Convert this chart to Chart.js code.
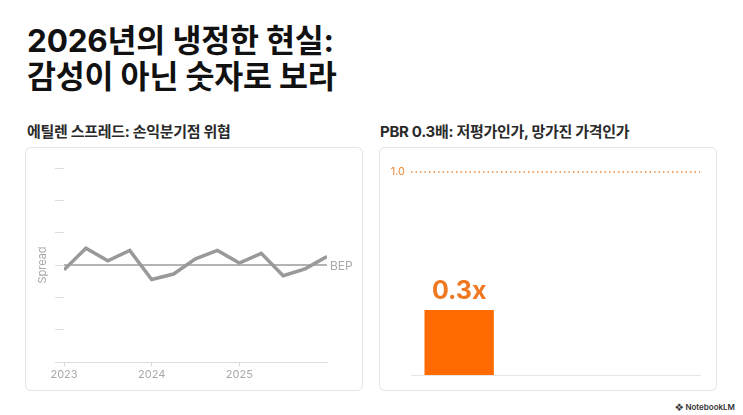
<!DOCTYPE html>
<html lang="ko">
<head>
<meta charset="utf-8">
<script src="https://cdn.jsdelivr.net/npm/chart.js@4.4.1/dist/chart.umd.min.js"></script>
<style>
  html, body { margin: 0; padding: 0; background: #fff; }
  body { width: 743px; height: 415px; position: relative; overflow: hidden;
         font-family: Inter, 'Noto Sans CJK KR', sans-serif; color: #111; }
  .title { position: absolute; left: 27px; top: 23px; font-size: 31.5px; font-weight: 700;
           line-height: 36px; letter-spacing: -0.2px; }
  .sub { position: absolute; top: 120px; font-size: 15px; font-weight: 700; color: #2a2a2a; letter-spacing: -0.3px; }
  .card { position: absolute; top: 147px; width: 336px; height: 242px;
          border: 1px solid #e4e4e4; border-radius: 6px; }
  .card canvas { display: block; }
  .brand { position: absolute; right: 8px; bottom: 3px; font-size: 8px; color: #333; font-weight: 600; }
</style>
</head>
<body>
<div class="title">2026년의 냉정한 현실:<br>감성이 아닌 숫자로 보라</div>

<div class="sub" style="left:27px;">에틸렌 스프레드: 손익분기점 위협</div>
<div class="sub" style="left:380px;">PBR 0.3배: 저평가인가, 망가진 가격인가</div>

<div class="card" style="left:25px;"><canvas id="spreadChart" width="336" height="242"></canvas></div>
<div class="card" style="left:379px;"><canvas id="pbrChart" width="336" height="242"></canvas></div>

<div class="brand">&#x2756; NotebookLM</div>

<script>
// === DATA ===
const quarters = [2023, 2023.25, 2023.5, 2023.75, 2024, 2024.25, 2024.5, 2024.75, 2025, 2025.25, 2025.5, 2025.75, 2026];
const spreadValues = [-0.15, 0.52, 0.13, 0.45, -0.45, -0.28, 0.19, 0.45, 0.06, 0.36, -0.33, -0.12, 0.26];
const yearTicks = ['2023', '2024', '2025'];
const bepValue = 0;
const bepLabel = 'BEP';

const pbrCategories = ['PBR', '', ''];
const pbrValues = [0.32, null, null];
const pbrLabels = ['0.3x', '', ''];
const pbrReference = 1.0;
const pbrReferenceLabel = '1.0';

const FONT = "Inter, 'Noto Sans CJK KR', sans-serif";
Chart.defaults.font.family = FONT;
Chart.defaults.animation = false;

// BEP label on right end of break-even line
const bepLabelPlugin = {
    id: 'bepLabel',
    afterDatasetsDraw(chart) {
        const { ctx, scales: { x, y } } = chart;
        const px = x.getPixelForValue(quarters[quarters.length - 1]);
        const py = y.getPixelForValue(bepValue);
        ctx.save();
        ctx.font = '12px ' + FONT;
        ctx.fillStyle = '#a8a8a8';
        ctx.textBaseline = 'middle';
        ctx.fillText(bepLabel, px + 3, py + 1);
        ctx.restore();
    }
};

new Chart(document.getElementById('spreadChart'), {
    type: 'line',
    data: {
        datasets: [{
            data: quarters.map((q) => ({ x: q, y: bepValue })),
            borderColor: '#9b9b9b',
            borderWidth: 1.5,
            pointRadius: 0,
            order: 2
        }, {
            data: quarters.map((q, i) => ({ x: q, y: spreadValues[i] })),
            borderColor: '#999999',
            borderWidth: 3.5,
            pointRadius: 0,
            tension: 0,
            borderJoinStyle: 'miter',
            order: 1
        }]
    },
    options: {
        responsive: false,
        layout: { padding: { top: 20, right: 35, bottom: 0, left: 0 } },
        plugins: { legend: { display: false }, tooltip: { enabled: false } },
        scales: {
            x: {
                type: 'linear', min: quarters[0], max: quarters[quarters.length - 1],
                grid: { display: true, drawOnChartArea: false, drawTicks: true, tickLength: 4, color: '#d8d8d8' },
                border: { display: true, color: '#dcdcdc' },
                ticks: {
                    stepSize: 1, color: '#a8a8a8', font: { size: 11 }, padding: 2, maxRotation: 0,
                    callback: (v) => yearTicks.includes(String(v)) ? String(v) : null
                },
                afterFit(s) { s.height = 28; }
            },
            y: {
                min: -3, max: 3,
                grid: { display: true, drawOnChartArea: false, drawTicks: true, tickLength: 9, color: '#dedede' },
                border: { display: false },
                ticks: { stepSize: 1, callback: () => '' },
                title: { display: true, text: 'Spread', color: '#a8a8a8', font: { size: 11 }, padding: { top: 10, bottom: 0 } },
                afterFit(s) { s.width = 38; }
            }
        }
    },
    plugins: [bepLabelPlugin]
});

// reference line (1.0) + value labels for the PBR chart
const pbrPlugin = {
    id: 'pbrDecor',
    afterDatasetsDraw(chart) {
        const { ctx, scales: { x, y } } = chart;
        const ry = y.getPixelForValue(pbrReference);
        ctx.save();
        ctx.strokeStyle = '#e9893a';
        ctx.lineWidth = 1.5;
        ctx.setLineDash([1.5, 3]);
        ctx.beginPath();
        ctx.moveTo(x.left, ry);
        ctx.lineTo(x.right, ry);
        ctx.stroke();
        ctx.setLineDash([]);
        ctx.font = '11px ' + FONT;
        ctx.fillStyle = '#e9893a';
        ctx.textAlign = 'right';
        ctx.textBaseline = 'middle';
        ctx.fillText(pbrReferenceLabel, x.left - 6, ry);

        const meta = chart.getDatasetMeta(0);
        ctx.font = 'bold 25px ' + FONT;
        ctx.fillStyle = '#f07820';
        ctx.textAlign = 'center';
        ctx.textBaseline = 'bottom';
        meta.data.forEach((bar, i) => {
            if (pbrValues[i] == null) return;
            ctx.fillText(pbrLabels[i], bar.x, bar.y - 6);
        });
        ctx.restore();
    }
};

new Chart(document.getElementById('pbrChart'), {
    type: 'bar',
    data: {
        labels: pbrCategories,
        datasets: [{
            data: pbrValues,
            backgroundColor: '#ff6b00',
            borderWidth: 0
        }]
    },
    options: {
        responsive: false,
        layout: { padding: { top: 24, right: 16, bottom: 15, left: 31 } },
        plugins: { legend: { display: false }, tooltip: { enabled: false } },
        scales: {
            x: {
                grid: { display: false },
                border: { display: true, color: '#e6e6e6' },
                ticks: { display: false },
                afterFit(s) { s.height = 0; }
            },
            y: {
                display: false, min: 0, max: pbrReference
            }
        }
    },
    plugins: [pbrPlugin]
});
</script>
</body>
</html>
